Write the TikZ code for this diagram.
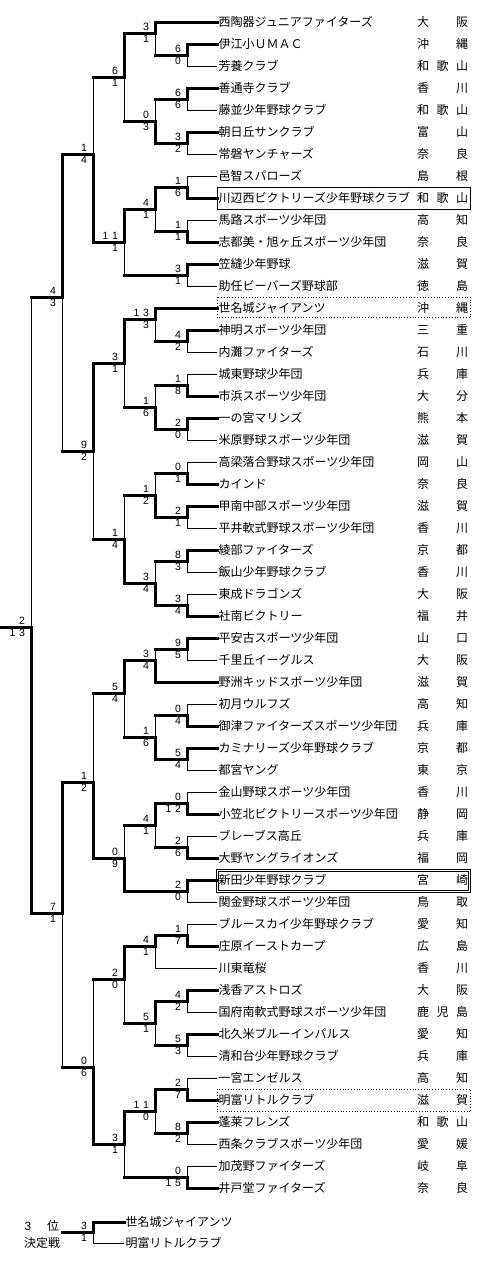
\documentclass[tikz,border=0pt]{standalone}
\usepackage{fontspec}
\newfontfamily\jp{Noto Sans CJK JP}
\newfontfamily\num{Liberation Sans}
\tikzset{
 thk/.style={line width=3pt, line cap=rect, line join=miter},
 thn/.style={line width=1pt},
 team/.style={anchor=west, inner xsep=1.5pt, inner ysep=0pt, text height=9pt, text depth=0pt, font=\jp\fontsize{12}{12}\selectfont},
 pref/.style={inner sep=0pt, text height=9pt, text depth=0pt, font=\jp\fontsize{12}{12}\selectfont},
 score/.style={inner sep=0.4pt, text height=7.5pt, text depth=0pt, font=\num\fontsize{10.5}{10.5}\selectfont},
}
\newcommand\dd[2]{#1\hspace{3.5pt}#2}
\newcommand\team[6]{%
  \node[team] (t#1) at (217,#2) {#3};
  \node[pref] (t#1a) at (423,#2) {#4};
  \node[pref] (t#1b) at (442.5,#2) {#5};
  \node[pref] (t#1c) at (462,#2) {#6};}
\newcommand\match[5]{%
  \coordinate (#1) at (#2,#3);
  \node[score, anchor=south east] (#1s1) at ([xshift=-5.5pt,yshift=1.5pt]#1) {#4};
  \node[score, anchor=north east] (#1s2) at ([xshift=-5.5pt,yshift=-1.5pt]#1) {#5};}
\newcommand\tw[2]{\draw[thk] (t#1.west) -| (#2);}
\newcommand\tl[2]{\draw[thn] (t#1.west) -| (#2);}
\newcommand\mw[2]{\draw[thk] (#1) -- (#1 -| #2) -- (#2);}
\newcommand\ml[2]{\draw[thn] (#1 -| #2) -- (#2); \draw[thk] (#1) -- (#1 -| #2);}
\begin{document}
\begin{tikzpicture}[x=1pt,y=-1pt]
\useasboundingbox (0,0) rectangle (486,1266);
% teams
\team{1}{22}{西陶器ジュニアファイターズ}{大}{}{阪}
\team{2}{44}{伊江小ＵＭＡＣ}{沖}{}{縄}
\team{3}{66}{芳養クラブ}{和}{歌}{山}
\team{4}{88}{善通寺クラブ}{香}{}{川}
\team{5}{110}{藤並少年野球クラブ}{和}{歌}{山}
\team{6}{132}{朝日丘サンクラブ}{富}{}{山}
\team{7}{154}{常磐ヤンチャーズ}{奈}{}{良}
\team{8}{176}{邑智スパローズ}{島}{}{根}
\team{9}{198}{川辺西ビクトリーズ少年野球クラブ}{和}{歌}{山}
\team{10}{220}{馬路スポーツ少年団}{高}{}{知}
\team{11}{242}{志都美・旭ヶ丘スポーツ少年団}{奈}{}{良}
\team{12}{264}{笠縫少年野球}{滋}{}{賀}
\team{13}{286}{助任ビーバーズ野球部}{徳}{}{島}
\team{14}{308}{世名城ジャイアンツ}{沖}{}{縄}
\team{15}{330}{神明スポーツ少年団}{三}{}{重}
\team{16}{352}{内灘ファイターズ}{石}{}{川}
\team{17}{374}{城東野球少年団}{兵}{}{庫}
\team{18}{396}{市浜スポーツ少年団}{大}{}{分}
\team{19}{418}{一の宮マリンズ}{熊}{}{本}
\team{20}{440}{米原野球スポーツ少年団}{滋}{}{賀}
\team{21}{462}{高梁落合野球スポーツ少年団}{岡}{}{山}
\team{22}{484}{カインド}{奈}{}{良}
\team{23}{506}{甲南中部スポーツ少年団}{滋}{}{賀}
\team{24}{528}{平井軟式野球スポーツ少年団}{香}{}{川}
\team{25}{550}{綾部ファイターズ}{京}{}{都}
\team{26}{572}{飯山少年野球クラブ}{香}{}{川}
\team{27}{594}{東成ドラゴンズ}{大}{}{阪}
\team{28}{616}{社南ビクトリー}{福}{}{井}
\team{29}{638}{平安古スポーツ少年団}{山}{}{口}
\team{30}{660}{千里丘イーグルス}{大}{}{阪}
\team{31}{682}{野洲キッドスポーツ少年団}{滋}{}{賀}
\team{32}{704}{初月ウルフズ}{高}{}{知}
\team{33}{726}{御津ファイターズスポーツ少年団}{兵}{}{庫}
\team{34}{748}{カミナリーズ少年野球クラブ}{京}{}{都}
\team{35}{770}{都宮ヤング}{東}{}{京}
\team{36}{792}{金山野球スポーツ少年団}{香}{}{川}
\team{37}{814}{小笠北ビクトリースポーツ少年団}{静}{}{岡}
\team{38}{836}{ブレーブス高丘}{兵}{}{庫}
\team{39}{858}{大野ヤングライオンズ}{福}{}{岡}
\team{40}{880}{新田少年野球クラブ}{宮}{}{崎}
\team{41}{902}{関金野球スポーツ少年団}{鳥}{}{取}
\team{42}{924}{ブルースカイ少年野球クラブ}{愛}{}{知}
\team{43}{946}{庄原イーストカープ}{広}{}{島}
\team{44}{968}{川東竜桜}{香}{}{川}
\team{45}{990}{浅香アストロズ}{大}{}{阪}
\team{46}{1012}{国府南軟式野球スポーツ少年団}{鹿}{児}{島}
\team{47}{1034}{北久米ブルーインパルス}{愛}{}{知}
\team{48}{1056}{清和台少年野球クラブ}{兵}{}{庫}
\team{49}{1078}{一宮エンゼルス}{高}{}{知}
\team{50}{1100}{明富リトルクラブ}{滋}{}{賀}
\team{51}{1122}{蓬莱フレンズ}{和}{歌}{山}
\team{52}{1144}{西条クラブスポーツ少年団}{愛}{}{媛}
\team{53}{1166}{加茂野ファイターズ}{岐}{}{阜}
\team{54}{1188}{井戸堂ファイターズ}{奈}{}{良}
% boxes
\draw[thn] (217,187) rectangle (470,209);
\draw[line width=0.8pt, dotted] (217.3,297.3) rectangle (470.7,317.7);
\draw[line width=0.8pt, dotted] (217.3,1089.3) rectangle (470.7,1111.7);
\draw[line width=0.9pt] (216.7,869.7) rectangle (470.7,892.3);
\draw[line width=0.9pt] (218.7,871.7) rectangle (468.7,890.3);
% matches
\match{m1}{187}{55}{6}{0}
\match{m2}{155}{33}{3}{1}
\match{m3}{187}{99}{6}{6}
\match{m4}{187}{143}{3}{2}
\match{m5}{155}{121}{0}{3}
\match{m6}{124}{77}{6}{1}
\match{m7}{187}{187}{1}{6}
\match{m8}{187}{231}{1}{1}
\match{m9}{155}{209}{4}{1}
\match{m10}{187}{275}{3}{1}
\match{m11}{124}{242}{\dd11}{1}
\match{m12}{93}{154}{1}{4}
\match{m13}{187}{341}{4}{2}
\match{m14}{155}{319}{\dd13}{3}
\match{m15}{187}{385}{1}{8}
\match{m16}{187}{429}{2}{0}
\match{m17}{155}{407}{1}{6}
\match{m18}{124}{363}{3}{1}
\match{m19}{187}{473}{0}{1}
\match{m20}{187}{517}{2}{1}
\match{m21}{155}{495}{1}{2}
\match{m22}{187}{561}{8}{3}
\match{m23}{187}{605}{3}{4}
\match{m24}{155}{583}{3}{4}
\match{m25}{124}{539}{1}{4}
\match{m26}{93}{451}{9}{2}
\match{m27}{62}{297}{4}{3}
\match{m28}{187}{649}{9}{5}
\match{m29}{155}{660}{3}{4}
\match{m30}{187}{715}{0}{4}
\match{m31}{187}{759}{5}{4}
\match{m32}{155}{737}{1}{6}
\match{m33}{124}{693}{5}{4}
\match{m34}{187}{803}{0}{\dd12}
\match{m35}{187}{847}{2}{6}
\match{m36}{155}{825}{4}{1}
\match{m38}{187}{891}{2}{0}
\match{m37}{124}{858}{0}{9}
\match{m39}{93}{782}{1}{2}
\match{m40}{187}{935}{1}{7}
\match{m41}{155}{946}{4}{1}
\match{m42}{187}{1001}{4}{2}
\match{m43}{187}{1045}{5}{3}
\match{m44}{155}{1023}{5}{1}
\match{m45}{124}{979}{2}{0}
\match{m46}{187}{1089}{2}{7}
\match{m47}{187}{1133}{8}{2}
\match{m48}{155}{1111}{\dd11}{0}
\match{m49}{187}{1177}{0}{\dd15}
\match{m50}{124}{1144}{3}{1}
\match{m51}{93}{1067}{0}{6}
\match{m52}{62}{913}{7}{1}
\match{m53}{31}{627}{2}{\dd13}
\coordinate (champ) at (0,627);
% edges
\tw{2}{m1} \tl{3}{m1}
\tw{1}{m2} \ml{m1}{m2}
\tw{4}{m3} \tl{5}{m3}
\tw{6}{m4} \tl{7}{m4}
\ml{m3}{m5} \mw{m4}{m5}
\mw{m2}{m6} \ml{m5}{m6}
\tl{8}{m7} \tw{9}{m7}
\tl{10}{m8} \tw{11}{m8}
\mw{m7}{m9} \ml{m8}{m9}
\tw{12}{m10} \tl{13}{m10}
\mw{m9}{m11} \ml{m10}{m11}
\ml{m6}{m12} \mw{m11}{m12}
\tw{15}{m13} \tl{16}{m13}
\tw{14}{m14} \ml{m13}{m14}
\tl{17}{m15} \tw{18}{m15}
\tw{19}{m16} \tl{20}{m16}
\ml{m15}{m17} \mw{m16}{m17}
\mw{m14}{m18} \ml{m17}{m18}
\tl{21}{m19} \tw{22}{m19}
\tw{23}{m20} \tl{24}{m20}
\ml{m19}{m21} \mw{m20}{m21}
\tw{25}{m22} \tl{26}{m22}
\tl{27}{m23} \tw{28}{m23}
\ml{m22}{m24} \mw{m23}{m24}
\ml{m21}{m25} \mw{m24}{m25}
\mw{m18}{m26} \ml{m25}{m26}
\mw{m12}{m27} \ml{m26}{m27}
\tw{29}{m28} \tl{30}{m28}
\ml{m28}{m29} \tw{31}{m29}
\tl{32}{m30} \tw{33}{m30}
\tw{34}{m31} \tl{35}{m31}
\ml{m30}{m32} \mw{m31}{m32}
\mw{m29}{m33} \ml{m32}{m33}
\tl{36}{m34} \tw{37}{m34}
\tl{38}{m35} \tw{39}{m35}
\mw{m34}{m36} \ml{m35}{m36}
\tw{40}{m38} \tl{41}{m38}
\ml{m36}{m37} \mw{m38}{m37}
\ml{m33}{m39} \mw{m37}{m39}
\tl{42}{m40} \tw{43}{m40}
\mw{m40}{m41} \tl{44}{m41}
\tw{45}{m42} \tl{46}{m42}
\tw{47}{m43} \tl{48}{m43}
\mw{m42}{m44} \ml{m43}{m44}
\mw{m41}{m45} \ml{m44}{m45}
\tl{49}{m46} \tw{50}{m46}
\tw{51}{m47} \tl{52}{m47}
\mw{m46}{m48} \ml{m47}{m48}
\tl{53}{m49} \tw{54}{m49}
\mw{m48}{m50} \ml{m49}{m50}
\ml{m45}{m51} \mw{m50}{m51}
\mw{m39}{m52} \ml{m51}{m52}
\ml{m27}{m53} \mw{m52}{m53}
\draw[thk] (m53) -- (champ);
% third place
\node[pref, font=\num\fontsize{12}{12}\selectfont, text height=8.5pt] (lab3) at (28,1226) {3};
\node[pref] (labi) at (53,1226) {位};
\node[pref] (labk) at (42,1243) {決定戦};
\node[team] (b1) at (124,1222) {世名城ジャイアンツ};
\node[team] (b2) at (124,1243) {明富リトルクラブ};
\match{m3p}{93}{1232}{3}{1}
\coordinate (p3) at (62,1232);
\draw[thk] (b1.west) -| (m3p);
\draw[thn] (b2.west) -| (m3p);
\draw[thk] (p3) -- (m3p);
\end{tikzpicture}
\end{document}
